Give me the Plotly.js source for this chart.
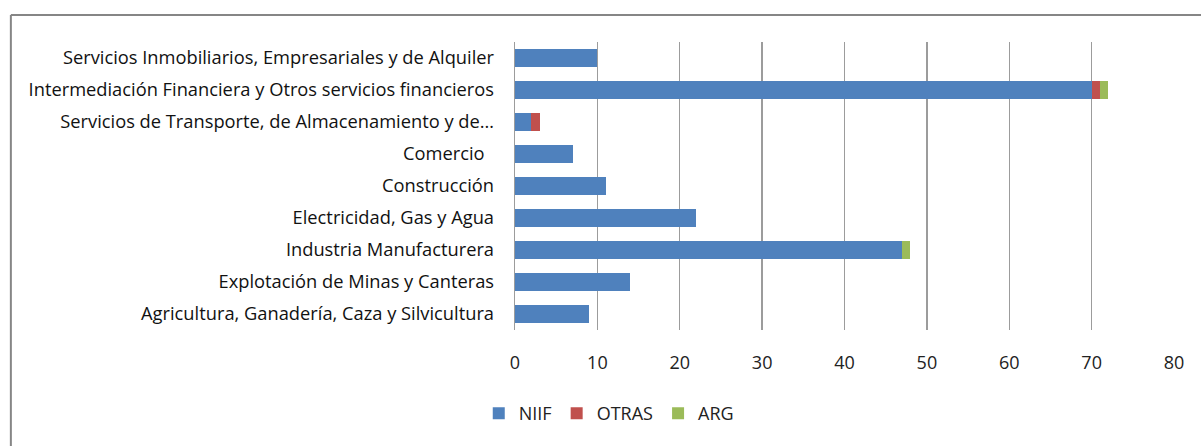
<!DOCTYPE html>
<html>
<head>
<meta charset="utf-8">
<script src="https://cdn.plot.ly/plotly-3.0.1.min.js"></script>
<style>html,body{margin:0;padding:0;background:#fff;}#chart{width:1201px;height:446px;}</style>
</head>
<body>
<div id="chart"></div>
<script>
const categories = [
  "Agricultura, Ganadería, Caza y Silvicultura",
  "Explotación de Minas y Canteras",
  "Industria Manufacturera",
  "Electricidad, Gas y Agua",
  "Construcción",
  "Comercio\u00a0\u00a0",
  "Servicios de Transporte, de Almacenamiento y de…",
  "Intermediación Financiera y Otros servicios financieros",
  "Servicios Inmobiliarios, Empresariales y de Alquiler"
];
const niif  = [9, 14, 47, 22, 11, 7, 2, 70, 10];
const otras = [0, 0, 0, 0, 0, 0, 1, 1, 0];
const arg   = [0, 0, 1, 0, 0, 0, 0, 1, 0];
const xTicks = [0, 10, 20, 30, 40, 50, 60, 70, 80];

const font = "Open Sans, Noto Sans, sans-serif";
const mk = (name, vals, color) => ({
  type: "bar", orientation: "h", name: name, x: vals, y: categories,
  marker: {color: color, line: {width: 0}}, width: 0.5625, hoverinfo: "x+name"
});
const data = [
  mk("NIIF", niif, "#4F81BD"),
  mk("OTRAS", otras, "#C0504D"),
  mk("ARG", arg, "#9BBB59")
];
const layout = {
  width: 1201, height: 446,
  margin: {l: 515, r: 27, t: 42, b: 116},
  barmode: "stack",
  paper_bgcolor: "#fff", plot_bgcolor: "#fff",
  font: {family: font, color: "#000", size: 16},
  showlegend: true,
  legend: {orientation: "h", x: -0.055, xanchor: "left", y: -0.29, yanchor: "middle",
           font: {size: 18, color: "#222"}, itemwidth: 30, traceorder: "normal"},
  xaxis: {range: [0, 80], tickvals: xTicks, ticktext: xTicks.map(String),
          showgrid: true, gridcolor: "#9c9c9c", gridwidth: 1.3, zeroline: false,
          showline: false, ticks: "", ticklabelstandoff: 20,
          tickfont: {size: 18, color: "#222"}, fixedrange: true},
  yaxis: {type: "category", categoryorder: "array", categoryarray: categories,
          showgrid: false, zeroline: false, showline: true, linecolor: "#9c9c9c", linewidth: 1.3,
          ticks: "", ticklabelstandoff: 16, tickfont: {size: 18.3, color: "#111"}, fixedrange: true},
  shapes: [
    {type: "line", xref: "paper", yref: "paper", x0: -0.765, x1: -0.765, y0: -0.45, y1: 1.094,
     line: {color: "#868686", width: 2}},
    {type: "line", xref: "paper", yref: "paper", x0: -0.765, x1: 1.06, y0: 1.094, y1: 1.094,
     line: {color: "#868686", width: 2}}
  ]
};
Plotly.newPlot("chart", data, layout, {staticPlot: true, displayModeBar: false});
</script>
</body>
</html>
